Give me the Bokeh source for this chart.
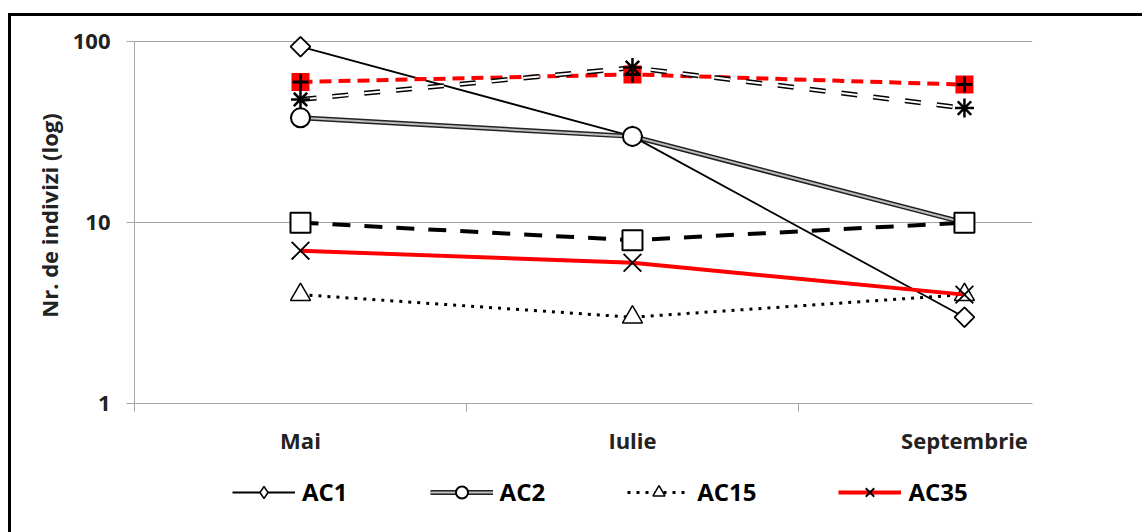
from bokeh.plotting import figure
from bokeh.layouts import column
from bokeh.models import (Range1d, FixedTicker, PrintfTickFormatter, Legend, LegendItem)
from bokeh.embed import file_html
from bokeh.resources import INLINE

months = ["Mai", "Iulie", "Septembrie"]
xs = [0, 1, 2]
ac1 = [94, 30, 3]
ac2 = [38, 30, 10]
ac15 = [4, 3, 4]
ac35 = [7, 6, 4]
s_square = [10, 8, 10]
s_star = [48, 72, 43]
s_plus = [60, 66, 58]

FONT = "Open Sans"
GRID = "#a6a6a6"

p = figure(width=1131, height=447, frame_width=898, frame_height=376,
           output_backend="svg", toolbar_location=None,
           x_range=Range1d(-0.5, 2.205), y_range=Range1d(1, 120), y_axis_type="log",
           min_border_left=123, min_border_right=110, min_border_top=11, min_border_bottom=60)
p.outline_line_color = None
p.background_fill_color = "white"
p.border_fill_color = "white"

# axes
p.xaxis.ticker = FixedTicker(ticks=xs, minor_ticks=[-0.5, 0.5, 1.5])
p.xaxis.major_label_overrides = {i: m for i, m in zip(xs, months)}
p.xaxis.major_tick_line_color = None
p.xaxis.minor_tick_line_color = GRID
p.xaxis.minor_tick_out = 8
p.xaxis.minor_tick_in = 0
p.xaxis.axis_line_color = GRID
p.xaxis.major_label_text_font = FONT
p.xaxis.major_label_text_font_style = "bold"
p.xaxis.major_label_text_font_size = "22px"
p.xaxis.major_label_text_color = "#222222"
p.xaxis.major_label_standoff = 13

p.yaxis.ticker = FixedTicker(ticks=[1, 10, 100], minor_ticks=[])
p.yaxis.bounds = (1, 100)
p.yaxis.formatter = PrintfTickFormatter(format="%d")
p.yaxis.major_tick_line_color = GRID
p.yaxis.major_tick_out = 8
p.yaxis.major_tick_in = 0
p.yaxis.minor_tick_line_color = None
p.yaxis.axis_line_color = GRID
p.yaxis.major_label_text_font = FONT
p.yaxis.major_label_text_font_style = "bold"
p.yaxis.major_label_text_font_size = "22px"
p.yaxis.major_label_text_color = "#222222"
p.yaxis.major_label_standoff = 16
p.yaxis.axis_label = "Nr. de indivizi (log)"
p.yaxis.axis_label_text_font = FONT
p.yaxis.axis_label_text_font_style = "bold"
p.yaxis.axis_label_text_font_size = "22px"
p.yaxis.axis_label_text_color = "#222222"
p.yaxis.axis_label_standoff = 6

p.xgrid.grid_line_color = None
p.ygrid.ticker = FixedTicker(ticks=[1, 10, 100])
p.ygrid.grid_line_color = GRID
p.ygrid.grid_line_width = 1

STYLES = {
    "ac1_line": dict(line_color="black", line_width=1.8),
    "ac2_out": dict(line_color="#222222", line_width=5),
    "ac2_in": dict(line_color="#bdbdbd", line_width=2),
    "ac2_mark": dict(marker="circle", size=19, fill_color="white", line_color="black", line_width=2),
    "ac15_line": dict(line_color="black", line_width=3, line_dash="3 6"),
    "ac15_mark": dict(marker="triangle", size=20, fill_color="white", line_color="black", line_width=1.5),
    "ac35_line": dict(line_color="#ff0000", line_width=4),
    "ac35_mark": dict(marker="x", size=25, line_color="black", line_width=1.8),
}
DIAMOND_MAIN = dict(marker="square", angle=0.785398, size=14, fill_color="white",
                    line_color="black", line_width=1.8)
DIAMOND_LEGEND = dict(marker="diamond", size=20, fill_color="white",
                      line_color="black", line_width=1.5)


def draw(fig, visible=True, diamond=DIAMOND_MAIN):
    r = {}
    r["a1"] = [fig.line(xs, ac1, visible=visible, **STYLES["ac1_line"]),
               fig.scatter(xs, ac1, visible=visible, **diamond)]
    r["a2"] = [fig.line(xs, ac2, visible=visible, **STYLES["ac2_out"]),
               fig.line(xs, ac2, visible=visible, **STYLES["ac2_in"]),
               fig.scatter(xs, ac2, visible=visible, **STYLES["ac2_mark"])]
    return r


def draw2(fig, visible=True):
    r = {}
    r["a15"] = [fig.line(xs, ac15, visible=visible, **STYLES["ac15_line"]),
                fig.scatter(xs, ac15, visible=visible, **STYLES["ac15_mark"])]
    r["a35"] = [fig.line(xs, ac35, visible=visible, **STYLES["ac35_line"]),
                fig.scatter(xs, ac35, visible=visible, **STYLES["ac35_mark"])]
    return r


main1 = draw(p)

# series without legend entries
p.line(xs, s_square, line_color="black", line_width=4, line_dash="18 14")
p.scatter(xs, s_square, marker="square", size=20, fill_color="white",
          line_color="black", line_width=2)

main2 = draw2(p)

p.line(xs, s_plus, line_color="#ff0000", line_width=4, line_dash="12 7")
p.line(xs, s_star, line_color="black", line_width=5, line_dash="16 16")
p.line(xs, s_star, line_color="white", line_width=2, line_dash="16 16")
p.scatter(xs, s_plus, marker="square", size=18, fill_color="#ff0000", line_color=None)
p.scatter(xs, s_plus, marker="cross", size=16, line_color="black", line_width=3)
p.scatter(xs, s_star, marker="asterisk", size=19, line_color="black", line_width=2.5)

# legend strip (frame aligned with the main frame by the column layout)
q = figure(width=1131, height=69, output_backend="svg", toolbar_location=None,
           x_range=Range1d(-0.5, 2.205), y_range=Range1d(1, 100), y_axis_type="log",
           x_axis_location=None, y_axis_location=None,
           min_border_left=0, min_border_right=0, min_border_top=0, min_border_bottom=0)
q.outline_line_color = None
q.grid.visible = False
q.background_fill_color = "white"
q.border_fill_color = "white"
lg1 = draw(q, visible=False, diamond=DIAMOND_LEGEND)
lg2 = draw2(q, visible=False)

legend = Legend(items=[
    LegendItem(label="AC1", renderers=lg1["a1"]),
    LegendItem(label="AC2", renderers=lg1["a2"]),
    LegendItem(label="AC15", renderers=lg2["a15"]),
    LegendItem(label="AC35", renderers=lg2["a35"]),
], orientation="horizontal", location=(98, 24))
legend.glyph_width = 63
legend.glyph_height = 30
legend.label_standoff = 7
legend.spacing = 82
legend.padding = 0
legend.margin = 0
legend.inactive_fill_alpha = 0
legend.click_policy = "none"
legend.border_line_color = None
legend.background_fill_alpha = 0
legend.label_text_font = FONT
legend.label_text_font_style = "bold"
legend.label_text_font_size = "24px"
legend.label_text_color = "black"
q.add_layout(legend, "center")

layout = column(p, q, spacing=0,
                styles={"margin-left": "8px", "margin-top": "13px",
                        "border-left": "3px solid black", "border-top": "3px solid black"})

open("out.html", "w").write(file_html(layout, INLINE))
